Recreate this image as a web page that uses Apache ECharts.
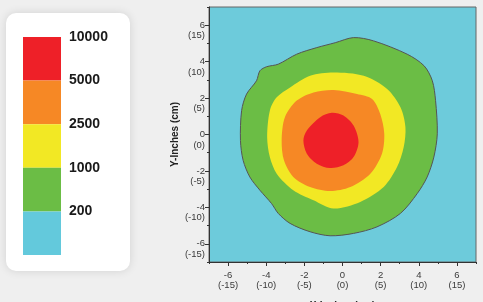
<!DOCTYPE html>
<html>
<head>
<meta charset="utf-8">
<script src="https://cdn.jsdelivr.net/npm/echarts@6/dist/echarts.min.js"></script>
<style>
  html, body { margin: 0; padding: 0; background: #efefef; }
  #main { width: 483px; height: 302px; }
</style>
</head>
<body>
<div id="main"></div>
<script>
// legend levels, top to bottom
var levels = ['10000', '5000', '2500', '1000', '200'];
var levelColors = ['#ee2028', '#f68825', '#f2e824', '#6bbd45', '#63c9dc'];

// tick labels: inches with cm below
var tickInches = [-6, -4, -2, 0, 2, 4, 6];
var tickCm = [-15, -10, -5, 0, 5, 10, 15];
var minorTicks = [-7, -5, -3, -1, 1, 3, 5, 7];

// contour outlines in inches [x, y]
var contour200 = [
  [0.58, 5.32], [1.63, 5.14], [3.39, 4.41], [4.28, 3.77], [4.71, 2.95], [4.88, 1.86],
  [4.97, 0.04], [4.79, -1.24], [4.44, -2.33], [3.92, -3.24], [3.04, -4.33], [1.81, -5.07],
  [0.58, -5.43], [-0.65, -5.56], [-1.70, -5.34], [-2.75, -4.88], [-3.37, -4.33], [-3.72, -3.79],
  [-4.33, -3.06], [-4.86, -2.33], [-5.21, -1.42], [-5.35, -0.33], [-5.29, 1.31], [-5.03, 2.22],
  [-4.51, 2.95], [-4.33, 3.50], [-3.98, 3.72], [-3.37, 3.86], [-2.40, 4.41], [-1.35, 4.77],
  [-0.38, 5.04]
];
var contour1000 = [
  [-0.47, 3.40], [1.11, 3.22], [2.34, 2.50], [3.04, 1.49], [3.30, 0.40], [3.21, -0.69],
  [2.86, -1.79], [2.16, -2.88], [0.93, -3.70], [-0.47, -4.06], [-1.52, -3.61], [-2.58, -3.06],
  [-3.45, -2.15], [-3.81, -1.24], [-3.95, -0.15], [-3.81, 1.31], [-3.45, 2.04], [-2.75, 2.58],
  [-1.70, 3.22]
];
var contour2500 = [
  [-0.47, 2.44], [0.76, 2.22], [1.55, 1.95], [1.98, 1.13], [2.19, 0.04], [2.07, -1.05],
  [1.46, -2.15], [0.41, -2.88], [-0.65, -3.10], [-1.70, -2.88], [-2.58, -2.33], [-3.07, -1.42],
  [-3.19, -0.33], [-3.02, 0.95], [-2.40, 1.86], [-1.52, 2.31]
];
var contour5000 = [
  [-0.56, 1.19], [0.05, 1.04], [0.58, 0.49], [0.84, -0.42], [0.58, -1.24], [0.05, -1.69],
  [-0.65, -1.84], [-1.35, -1.60], [-1.87, -1.05], [-2.05, -0.33], [-1.87, 0.22], [-1.17, 0.95]
];

var myChart = echarts.init(document.getElementById('main'));

function cmOf(v) {
  var i = tickInches.indexOf(v);
  return i >= 0 ? tickCm[i] : '';
}
function xTickLabel(v) {
  return v + '\n(' + cmOf(v) + ')';
}
// leading blank line keeps the inch value centred on the tick
function yTickLabel(v) {
  return ' \n' + v + '\n(' + cmOf(v) + ')';
}

function contourSeries(points, color, stroke) {
  return {
    type: 'custom',
    xAxisIndex: 0,
    yAxisIndex: 0,
    data: [0],
    silent: true,
    renderItem: function (params, api) {
      var pts = points.map(function (p) { return api.coord(p); });
      return {
        type: 'polygon',
        shape: { points: pts, smooth: 0.3 },
        style: { fill: color, stroke: stroke || null, lineWidth: stroke ? 1 : 0 }
      };
    }
  };
}

// legend graphic
var legendItems = [{
  type: 'rect',
  shape: { x: 6, y: 13, width: 124, height: 258, r: 10 },
  style: { fill: '#fff', shadowBlur: 10, shadowColor: 'rgba(0,0,0,0.12)' }
}];
var blockH = 218 / levels.length;
levels.forEach(function (lab, i) {
  legendItems.push({
    type: 'rect',
    shape: { x: 23, y: 37 + i * blockH, width: 38, height: blockH },
    style: { fill: levelColors[i] }
  });
  legendItems.push({
    type: 'text',
    x: 69,
    y: 37 + i * blockH,
    style: {
      text: lab, fill: '#1a1a1a', font: 'bold 14px "Liberation Sans", Arial, sans-serif',
      textVerticalAlign: 'middle'
    }
  });
});

var axisFont = { fontSize: 9.5, color: '#3a3a3a', lineHeight: 10.5, fontFamily: 'Liberation Sans, Arial, sans-serif' };
var nameFont = { fontSize: 10, fontWeight: 'bold', color: '#222', fontFamily: 'Liberation Sans, Arial, sans-serif' };

var option = {
  backgroundColor: '#efefef',
  animation: false,
  grid: {
    left: 209, top: 7, right: 7, bottom: 40,
    outerBoundsMode: 'none', containLabel: false,
    show: true, backgroundColor: '#6dcbdb', borderColor: '#666', borderWidth: 1
  },
  graphic: legendItems,
  xAxis: [{
    type: 'value', min: -7, max: 7, interval: 1, position: 'bottom',
    name: 'X-Inches (cm)', nameLocation: 'middle', nameGap: 39, nameMoveOverlap: false, nameTextStyle: nameFont,
    axisLine: { show: true, onZero: false, lineStyle: { color: '#333' } },
    axisTick: { show: true, customValues: tickInches, length: 4, lineStyle: { color: '#333' } },
    axisLabel: Object.assign({ customValues: tickInches, formatter: xTickLabel, margin: 8 }, axisFont),
    splitLine: { show: false }
  }, {
    type: 'value', min: -7, max: 7, interval: 1, position: 'bottom',
    axisLine: { show: false, onZero: false },
    axisTick: { show: true, customValues: minorTicks, length: 2, lineStyle: { color: '#333' } },
    axisLabel: { show: false },
    splitLine: { show: false }
  }],
  yAxis: [{
    type: 'value', min: -7, max: 7, interval: 1, position: 'left',
    name: 'Y-Inches (cm)', nameLocation: 'middle', nameGap: 29, nameMoveOverlap: false, nameTextStyle: nameFont,
    axisLine: { show: true, onZero: false, lineStyle: { color: '#333' } },
    axisTick: { show: true, customValues: tickInches, length: 4, lineStyle: { color: '#333' } },
    axisLabel: Object.assign({ customValues: tickInches, formatter: yTickLabel, margin: 4, align: 'right' }, axisFont),
    splitLine: { show: false }
  }, {
    type: 'value', min: -7, max: 7, interval: 1, position: 'left',
    axisLine: { show: false, onZero: false },
    axisTick: { show: true, customValues: minorTicks, length: 2, lineStyle: { color: '#333' } },
    axisLabel: { show: false },
    splitLine: { show: false }
  }],
  series: [
    contourSeries(contour200, levelColors[3], '#555'),
    contourSeries(contour1000, levelColors[2]),
    contourSeries(contour2500, levelColors[1]),
    contourSeries(contour5000, levelColors[0])
  ]
};
myChart.setOption(option);
</script>
</body>
</html>
